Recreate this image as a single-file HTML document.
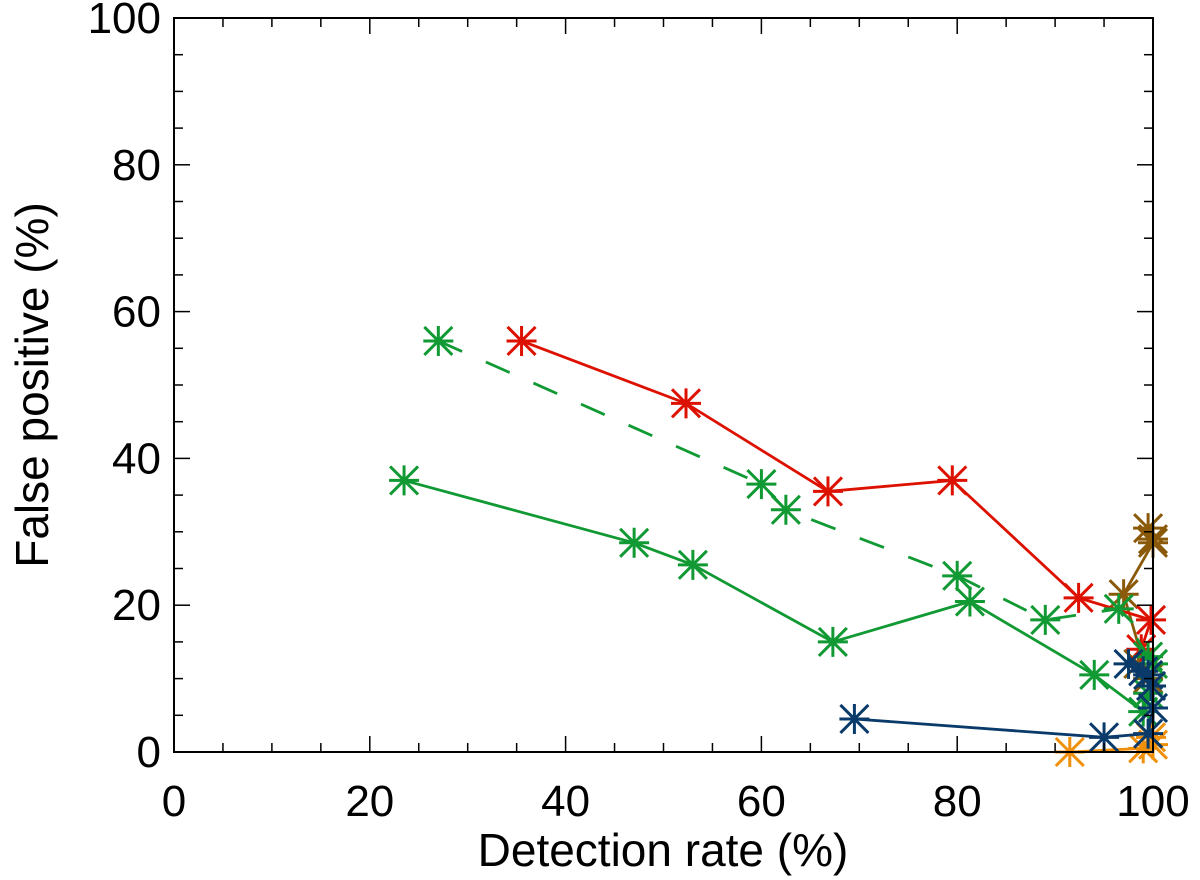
<!DOCTYPE html>
<html><head><meta charset="utf-8"><style>
body{margin:0;background:#fff}
svg{display:block;font-family:"Liberation Sans",sans-serif}
</style></head><body>
<svg id="chart" width="1200" height="880" xmlns="http://www.w3.org/2000/svg"></svg>
<script>
const xTicks=[0,20,40,60,80,100];
const yTicks=[0,20,40,60,80,100];
const redX=[35.5,52.3,66.8,79.5,92.4,99.8,98.8];
const redY=[56,47.5,35.5,37,21,18,14];
const greenDashX=[27,60,62.5,80,89,96.5,99.5];
const greenDashY=[56,36.5,33,24,18,19.5,13];
const greenX=[23.5,47,53,67.3,81.3,94,99,99.5,100];
const greenY=[37,28.5,25.5,15,20.5,10.5,5.5,8,12];
const blueX=[69.5,95,99.5,100,99.8,99.5,97.5,99];
const blueY=[4.5,2,2.5,6,9,10.5,12,11];
const orangeX=[91.5,99,100,99.8];
const orangeY=[0,0.5,1,2];
const brownX=[100,99.5,100,97,99.5,98.5];
const brownY=[29,30.5,28.5,21.5,10,12];
const series=[
 {name:'brown-series',x:brownX,y:brownY,c:'#8a5a0a',dash:null},
 {name:'orange-series',x:orangeX,y:orangeY,c:'#f0900a',dash:null},
 {name:'red-series',x:redX,y:redY,c:'#dd1100',dash:null},
 {name:'green-dashed-series',x:greenDashX,y:greenDashY,c:'#119933',dash:'26 26'},
 {name:'green-solid-series',x:greenX,y:greenY,c:'#119933',dash:null},
 {name:'blue-series',x:blueX,y:blueY,c:'#0a3a6a',dash:null}
];
const X0=174,X1=1153,Y0=752,Y1=18;
const sx=v=>X0+(X1-X0)*v/100, sy=v=>Y0-(Y0-Y1)*v/100;
const svg=document.getElementById('chart');
const NS='http://www.w3.org/2000/svg';
function mk(t,a,p){const e=document.createElementNS(NS,t);for(const k in a)e.setAttribute(k,a[k]);(p||svg).appendChild(e);return e;}
const gS=mk('g',{});


series.forEach(s=>{
 const g=mk('g',{},gS);
 
 
 const pl=mk('polyline',{points:s.x.map((v,i)=>sx(v)+','+sy(s.y[i])).join(' '),fill:'none',stroke:s.c,'stroke-width':2.8},g);
 if(s.dash)pl.setAttribute('stroke-dasharray',s.dash);
 
 
 s.x.forEach((v,i)=>{
  const cx=sx(v),cy=sy(s.y[i]),r=15,d=14;
  const m=mk('path',{d:`M${cx-r},${cy}H${cx+r}M${cx},${cy-r}V${cy+r}M${cx-d},${cy-d}L${cx+d},${cy+d}M${cx-d},${cy+d}L${cx+d},${cy-d}`,stroke:s.c,'stroke-width':3,fill:'none'},g);
  
  
 });
});
const fr=mk('rect',{x:X0,y:Y1,width:X1-X0,height:Y0-Y1,fill:'none',stroke:'#000','stroke-width':2});


for(let v=0;v<=100;v+=5){
 const L=(v%20===0)?16:9;
 const a=mk('line',{x1:sx(v),x2:sx(v),y1:Y0,y2:Y0-L,stroke:'#000','stroke-width':1.5});
 
 
 const b=mk('line',{x1:sx(v),x2:sx(v),y1:Y1,y2:Y1+L,stroke:'#000','stroke-width':1.5});
 
 
 const c=mk('line',{x1:X0,x2:X0+L,y1:sy(v),y2:sy(v),stroke:'#000','stroke-width':1.5});
 
 
 const d=mk('line',{x1:X1,x2:X1-L,y1:sy(v),y2:sy(v),stroke:'#000','stroke-width':1.5});
 
 
}
xTicks.forEach(v=>{
 const t=mk('text',{x:sx(v),y:816,'text-anchor':'middle','font-size':44,fill:'#000'});
 t.textContent=v;
 
 
});
yTicks.forEach(v=>{
 const t=mk('text',{x:161,y:sy(v)+15,'text-anchor':'end','font-size':44,fill:'#000'});
 t.textContent=v;
 
 
});
const xt=mk('text',{x:663,y:866,'text-anchor':'middle','font-size':46,fill:'#000'});
xt.textContent='Detection rate (%)';


const yt=mk('text',{x:0,y:0,'text-anchor':'middle','font-size':46,fill:'#000',transform:'translate(48,385) rotate(-90)'});
yt.textContent='False positive (%)';


</script>
</body></html>
